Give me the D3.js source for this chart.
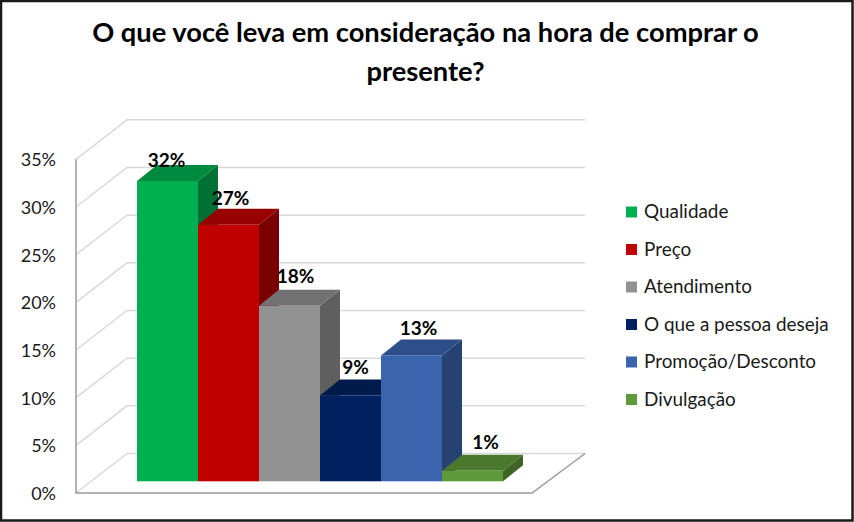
<!DOCTYPE html>
<html>
<head>
<meta charset="utf-8">
<script src="https://cdn.jsdelivr.net/npm/d3@7"></script>
<style>
  html, body { margin: 0; padding: 0; background: #fff; }
  svg { display: block; font-family: Lato, "Open Sans", sans-serif; }
</style>
</head>
<body>
<svg width="854" height="522"></svg>
<script>
const titleLines = ["O que você leva em consideração na hora de comprar o", "presente?"];
const categories = ["Qualidade", "Preço", "Atendimento", "O que a pessoa deseja", "Promoção/Desconto", "Divulgação"];
const values = [31.5, 26.9, 18.4, 9, 13.2, 1.1];
const yTicks = [0, 5, 10, 15, 20, 25, 30, 35];

// cores: frente, topo, lateral
const frontColors = ["#00b050", "#c00000", "#929292", "#002060", "#3a64ae", "#5f9a3a"];
const topColors = ["#008a40", "#960000", "#727272", "#001a4c", "#2d4e88", "#4a782d"];
const sideColors = ["#007035", "#7a0000", "#5f5f5f", "#001540", "#264273", "#3e6526"];
const labelNudgeX = [-1, 2, 6, 5, 7, 13];
const labelNudgeY = [-21, -27, -30, -28, -27, -29];

const svg = d3.select("svg");

// profundidade da parede e das colunas
const wallDx = 51, wallDy = -39.5;
const barDx = 20, barDy = -16;
const floorFrontY = 493;
const wallLeft = 76, floorRight = 532;
const barBase = 481.3;

const yHeight = d3.scaleLinear().domain([0, 35]).range([0, 333.7]);
const x = d3.scaleBand().domain(categories).range([137, 503]);

svg.append("rect")
  .attr("x", 1).attr("y", 1)
  .attr("width", 851.5).attr("height", 519.5)
  .attr("fill", "#fff").attr("stroke", "#1a1a1a").attr("stroke-width", 2.5);

// titulo
svg.append("g").selectAll("text")
  .data(titleLines)
  .join("text")
  .attr("x", 425.5)
  .attr("y", (d, i) => 42 + i * 39)
  .attr("text-anchor", "middle")
  .attr("font-size", 27.3)
  .attr("font-weight", 700)
  .attr("fill", "#000")
  .text((d) => d);

// grade
const grid = svg.append("g");
grid.selectAll("path")
  .data(yTicks)
  .join("path")
  .attr("d", (d) => {
    const y0 = floorFrontY - yHeight(d);
    return `M${wallLeft},${y0}L${wallLeft + wallDx},${y0 + wallDy}L${floorRight + 53},${y0 + wallDy}`;
  })
  .attr("fill", "none")
  .attr("stroke", "#d9d9d9")
  .attr("stroke-width", 1.5);

// eixos
svg.append("path")
  .attr("d", `M${wallLeft},${floorFrontY - yHeight(35)}V${floorFrontY}H${floorRight}L${floorRight + 53},${floorFrontY + wallDy}`)
  .attr("fill", "none")
  .attr("stroke", "#9a9a9a")
  .attr("stroke-width", 1.5);

svg.append("g").selectAll("text")
  .data(yTicks)
  .join("text")
  .attr("x", 56)
  .attr("y", (d) => floorFrontY - yHeight(d) + 7)
  .attr("text-anchor", "end")
  .attr("font-size", 18)
  .attr("fill", "#1a1a1a")
  .text((d) => d + "%");

// colunas 3d
const bars = svg.append("g").selectAll("g")
  .data(categories)
  .join("g");

bars.append("path")
  .attr("fill", (d, i) => sideColors[i])
  .attr("d", (d, i) => {
    const r = x(d) + x.bandwidth(), t = barBase - yHeight(values[i]);
    return `M${r},${t}l${barDx},${barDy}V${barBase + barDy}L${r},${barBase}Z`;
  });

bars.append("path")
  .attr("fill", (d, i) => topColors[i])
  .attr("d", (d, i) => {
    const l = x(d), t = barBase - yHeight(values[i]);
    return `M${l},${t}l${barDx},${barDy}h${x.bandwidth()}l${-barDx},${-barDy}Z`;
  });

bars.append("rect")
  .attr("x", (d) => x(d))
  .attr("y", (d, i) => barBase - yHeight(values[i]))
  .attr("width", x.bandwidth())
  .attr("height", (d, i) => yHeight(values[i]))
  .attr("fill", (d, i) => frontColors[i]);

// rotulos
svg.append("g").selectAll("text")
  .data(categories)
  .join("text")
  .attr("x", (d, i) => x(d) + x.bandwidth() / 2 + labelNudgeX[i])
  .attr("y", (d, i) => barBase - yHeight(values[i]) + labelNudgeY[i] + 7)
  .attr("text-anchor", "middle")
  .attr("font-size", 19)
  .attr("font-weight", 700)
  .attr("fill", "#000")
  .text((d, i) => Math.round(values[i]) + "%");

// legenda
const legendY = d3.scalePoint().domain(categories).range([212, 399.5]);
const legend = svg.append("g").selectAll("g")
  .data(categories)
  .join("g")
  .attr("transform", (d) => `translate(626,${legendY(d)})`);

legend.append("rect")
  .attr("x", 0).attr("y", -5.5)
  .attr("width", 11).attr("height", 11)
  .attr("fill", (d, i) => frontColors[i]);

legend.append("text")
  .attr("x", 18)
  .attr("y", 6)
  .attr("font-size", 18.9)
  .attr("fill", "#1a1a1a")
  .text((d) => d);
</script>
</body>
</html>
